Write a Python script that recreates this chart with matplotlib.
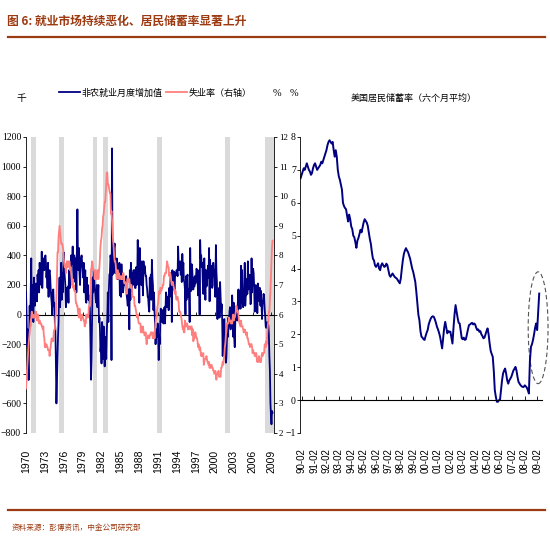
import numpy as np
import matplotlib.pyplot as plt
from matplotlib.lines import Line2D
from matplotlib.patches import Ellipse

plt.rcParams['font.family'] = ['Liberation Serif', 'Noto Sans CJK SC']
CJK = ['Noto Sans CJK SC', 'DejaVu Sans']

# ---- data ----
# US nonfarm payroll change, thousands, monthly from 1970-01
payrolls = [
    [155, 20, -210, -100, -300, -442, -150, 60, -80, 150, 380, 60],
    [0, 200, -50, 250, 150, 60, 100, 210, 180, 90, 270, 200],
    [300, 150, 350, 280, 260, 200, 425, 180, 300, 380, 320, 300],
    [380, 400, 350, 250, 300, 180, 350, 120, 280, 300, 260, 180],
    [120, 80, 0, 150, 170, 60, 80, -50, -100, -320, -600, -450],
    [-300, -150, -50, 150, 250, 50, 200, 350, 100, 280, 150, 300],
    [420, 300, 250, 200, 50, 100, 180, 150, 190, 80, 300, 200],
    [180, 220, 400, 340, 360, 460, 300, 220, 400, 280, 350, 380],
    [150, 450, 711, 400, 300, 450, 280, 200, 320, 380, 400, 350],
    [300, 250, 350, 150, 230, 300, 100, 80, 250, 150, 200, 100],
    [130, 100, 20, -200, -440, -300, -50, 250, 150, 300, 250, 180],
    [150, 100, 80, 200, 50, 120, 200, -50, -20, -100, -250, -200],
    [-330, -50, -150, -300, -80, -250, -350, -150, -200, -300, -120, -20],
    [150, -50, 170, 270, 280, 400, 380, -307, 1123, 270, 350, 350],
    [450, 480, 280, 360, 350, 380, 320, 240, 310, 280, 350, 130],
    [270, 120, 340, 200, 270, 150, 190, 200, 200, 200, 210, 260],
    [130, 100, 60, 170, 120, -100, 300, 100, 350, 160, 200, 280],
    [200, 300, 240, 300, 180, 180, 320, 200, 230, 504, 280, 300],
    [80, 450, 280, 230, 200, 360, 240, 130, 360, 280, 330, 300],
    [260, 260, 200, 170, 120, 110, 50, 20, 250, 120, 270, 100],
    [370, 250, 200, 30, 150, 20, -50, -200, -100, -150, -150, -60],
    [-140, -307, -150, -200, -50, 40, -20, -50, 30, 30, -60, 10],
    [50, -60, 40, 150, 120, 50, 80, 120, 30, 180, 120, 200],
    [280, 260, -50, 300, 270, 170, 290, 170, 250, 280, 270, 300],
    [290, 260, 460, 340, 300, 310, 360, 270, 350, 220, 410, 300],
    [350, 230, 220, 170, 0, 260, 100, 250, 270, 120, 170, 130],
    [-50, 450, 230, 160, 340, 300, 210, 170, 250, 190, 260, 210],
    [240, 310, 300, 270, 130, 250, 300, 0, 504, 380, 400, 320],
    [350, 220, 140, 350, 380, 230, 100, 300, 190, 200, 290, 330],
    [250, 450, 90, 370, 220, 270, 330, 180, 200, 350, 300, 300],
    [250, 120, 470, 290, 220, -30, 160, 0, 180, -20, 220, 120],
    [20, 70, -30, -280, -40, -120, -30, -160, -240, -325, -290, -170],
    [-130, -150, -20, -80, 20, 50, -100, 0, -50, 130, 20, -150],
    [80, -160, -220, -50, -20, 0, 20, -40, 100, 170, 40, 100],
    [160, 40, 330, 250, 300, 80, 50, 120, 160, 350, 60, 140],
    [130, 240, 140, 360, 170, 250, 270, 200, 70, 80, 380, 150],
    [280, 310, 280, 180, 20, 80, 200, 180, 160, 10, 210, 180],
    [160, 90, 180, 60, 160, 70, -30, 90, 80, 140, 110, 40],
    [-10, -80, -90, -70, -50, -60, -70, -130, -280, -380, -597, -681],
    [-741, -651, -663],
]

# unemployment rate, %, monthly from 1970-01
unemployment = [
    [3.5, 3.8, 4.1, 4.4, 4.7, 5.0, 5.2, 5.4, 5.6, 5.8, 5.9, 6.1],
    [5.9, 5.9, 6.0, 5.9, 5.9, 5.9, 6.0, 6.1, 6.0, 5.8, 6.0, 6.0],
    [5.8, 5.7, 5.8, 5.7, 5.7, 5.7, 5.6, 5.6, 5.5, 5.6, 5.3, 5.2],
    [4.9, 5.0, 4.9, 5.0, 4.9, 4.9, 4.8, 4.8, 4.8, 4.6, 4.8, 4.9],
    [5.1, 5.2, 5.1, 5.1, 5.1, 5.4, 5.5, 5.5, 5.9, 6.0, 6.6, 7.2],
    [8.1, 8.1, 8.6, 8.8, 9.0, 8.8, 8.6, 8.4, 8.4, 8.4, 8.3, 8.2],
    [7.9, 7.7, 7.6, 7.7, 7.4, 7.6, 7.8, 7.8, 7.6, 7.7, 7.8, 7.8],
    [7.5, 7.6, 7.4, 7.2, 7.0, 7.2, 6.9, 7.0, 6.8, 6.8, 6.8, 6.4],
    [6.4, 6.3, 6.3, 6.1, 6.0, 5.9, 6.2, 5.9, 6.0, 5.8, 5.9, 6.0],
    [5.9, 5.9, 5.8, 5.8, 5.6, 5.7, 5.7, 6.0, 5.9, 6.0, 5.9, 6.0],
    [6.3, 6.3, 6.3, 6.9, 7.5, 7.6, 7.8, 7.7, 7.5, 7.5, 7.5, 7.2],
    [7.5, 7.4, 7.4, 7.2, 7.5, 7.5, 7.2, 7.4, 7.6, 7.9, 8.3, 8.5],
    [8.6, 8.9, 9.0, 9.3, 9.4, 9.6, 9.8, 9.8, 10.1, 10.4, 10.8, 10.8],
    [10.4, 10.4, 10.3, 10.2, 10.1, 10.1, 9.4, 9.5, 9.2, 8.8, 8.5, 8.3],
    [8.0, 7.8, 7.8, 7.7, 7.4, 7.2, 7.5, 7.5, 7.3, 7.4, 7.2, 7.3],
    [7.3, 7.2, 7.2, 7.3, 7.2, 7.4, 7.4, 7.1, 7.1, 7.1, 7.0, 7.0],
    [6.7, 7.2, 7.2, 7.1, 7.2, 7.2, 7.0, 6.9, 7.0, 7.0, 6.9, 6.6],
    [6.6, 6.6, 6.6, 6.3, 6.3, 6.2, 6.1, 6.0, 5.9, 6.0, 5.8, 5.7],
    [5.7, 5.7, 5.7, 5.4, 5.6, 5.4, 5.4, 5.6, 5.4, 5.4, 5.3, 5.3],
    [5.4, 5.2, 5.0, 5.2, 5.2, 5.3, 5.2, 5.2, 5.3, 5.3, 5.4, 5.4],
    [5.4, 5.3, 5.2, 5.4, 5.4, 5.2, 5.5, 5.7, 5.9, 5.9, 6.2, 6.3],
    [6.4, 6.6, 6.8, 6.7, 6.9, 6.9, 6.8, 6.9, 6.9, 7.0, 7.0, 7.3],
    [7.3, 7.4, 7.4, 7.4, 7.6, 7.8, 7.7, 7.6, 7.6, 7.3, 7.4, 7.4],
    [7.3, 7.1, 7.0, 7.1, 7.1, 7.0, 6.9, 6.8, 6.7, 6.8, 6.6, 6.5],
    [6.6, 6.6, 6.5, 6.4, 6.1, 6.1, 6.1, 6.0, 5.9, 5.8, 5.6, 5.5],
    [5.6, 5.4, 5.4, 5.8, 5.6, 5.6, 5.7, 5.7, 5.6, 5.5, 5.6, 5.6],
    [5.6, 5.5, 5.5, 5.6, 5.6, 5.3, 5.5, 5.1, 5.2, 5.2, 5.4, 5.4],
    [5.3, 5.2, 5.2, 5.1, 4.9, 5.0, 4.9, 4.8, 4.9, 4.7, 4.6, 4.7],
    [4.6, 4.6, 4.7, 4.3, 4.4, 4.5, 4.5, 4.5, 4.6, 4.5, 4.4, 4.4],
    [4.3, 4.4, 4.2, 4.3, 4.2, 4.3, 4.3, 4.2, 4.2, 4.1, 4.1, 4.0],
    [4.0, 4.1, 4.0, 3.8, 4.0, 4.0, 4.0, 4.1, 3.9, 3.9, 3.9, 3.9],
    [4.2, 4.2, 4.3, 4.4, 4.3, 4.5, 4.6, 4.9, 5.0, 5.3, 5.5, 5.7],
    [5.7, 5.7, 5.7, 5.9, 5.8, 5.8, 5.8, 5.7, 5.7, 5.7, 5.9, 6.0],
    [5.8, 5.9, 5.9, 6.0, 6.1, 6.3, 6.2, 6.1, 6.1, 6.0, 5.8, 5.7],
    [5.7, 5.6, 5.8, 5.6, 5.6, 5.6, 5.5, 5.4, 5.4, 5.5, 5.4, 5.4],
    [5.3, 5.4, 5.2, 5.2, 5.1, 5.0, 5.0, 4.9, 5.0, 5.0, 5.0, 4.9],
    [4.7, 4.8, 4.7, 4.7, 4.6, 4.6, 4.7, 4.7, 4.5, 4.4, 4.5, 4.4],
    [4.6, 4.5, 4.4, 4.5, 4.4, 4.6, 4.7, 4.6, 4.7, 4.7, 4.7, 5.0],
    [5.0, 4.9, 5.1, 5.0, 5.4, 5.6, 5.8, 6.1, 6.1, 6.5, 6.8, 7.3],
    [7.8, 8.3, 8.5],
]

# personal saving rate (6m avg), %, monthly from 1990-01
saving = [
    [6.75, 6.85, 6.95, 7.05, 7.0, 7.1, 7.2, 7.1, 7.0, 6.95, 6.85, 6.9],
    [7.05, 7.15, 7.2, 7.1, 7.0, 7.05, 7.1, 7.15, 7.25, 7.2, 7.3, 7.4],
    [7.5, 7.6, 7.75, 7.85, 7.9, 7.85, 7.8, 7.85, 7.6, 7.4, 7.6, 7.4],
    [7.0, 6.8, 6.7, 6.55, 6.4, 6.0, 5.9, 5.84, 5.8, 5.6, 5.43, 5.64],
    [5.5, 5.28, 5.2, 5.0, 4.95, 4.8, 4.63, 4.85, 4.93, 5.05, 5.18, 5.1],
    [5.25, 5.4, 5.5, 5.45, 5.4, 5.3, 5.1, 4.9, 4.75, 4.5, 4.3, 4.25],
    [4.1, 4.05, 4.1, 4.16, 4.0, 3.95, 4.1, 4.16, 4.1, 4.05, 4.07, 4.15],
    [4.1, 3.95, 3.8, 3.75, 3.8, 3.85, 3.8, 3.75, 3.72, 3.7, 3.65, 3.6],
    [3.55, 3.7, 4.0, 4.26, 4.45, 4.55, 4.62, 4.55, 4.5, 4.4, 4.3, 4.15],
    [4.0, 3.9, 3.75, 3.6, 3.3, 2.94, 2.6, 2.43, 2.1, 1.93, 1.9, 1.85],
    [1.83, 1.95, 2.05, 2.13, 2.3, 2.4, 2.48, 2.53, 2.55, 2.53, 2.45, 2.35],
    [2.23, 2.15, 2.05, 1.93, 1.75, 1.57, 1.9, 2.2, 2.38, 2.2, 2.03, 2.1],
    [2.08, 2.08, 1.9, 1.72, 2.2, 2.6, 2.89, 2.7, 2.5, 2.35, 2.33, 2.1],
    [1.88, 1.85, 1.9, 1.83, 1.85, 2.0, 2.15, 2.28, 2.3, 2.33, 2.35, 2.3],
    [2.33, 2.3, 2.2, 2.13, 2.15, 2.08, 2.1, 2.0, 1.95, 1.88, 1.9, 2.0],
    [2.1, 2.18, 2.0, 1.72, 1.5, 1.4, 1.32, 0.9, 0.3, 0.1, -0.05, -0.05],
    [0.0, 0.0, 0.3, 0.6, 0.81, 0.9, 0.96, 0.8, 0.6, 0.5, 0.6, 0.65],
    [0.71, 0.8, 0.9, 0.95, 1.01, 0.9, 0.7, 0.55, 0.5, 0.45, 0.42, 0.4],
    [0.4, 0.45, 0.42, 0.38, 0.3, 0.2, 1.2, 1.62, 1.7, 1.83, 2.0, 2.2],
    [2.33, 2.13, 2.7, 3.24],
]

# shaded recession bands as drawn in the chart (decimal years)
band_start = [1970.8, 1975.25, 1980.65, 1982.25, 1990.8, 2001.6, 2008.0]
band_end = [1971.6, 1976.05, 1981.3, 1983.05, 1991.6, 2002.4, 2009.4]

year_ticks = list(range(1970, 2010, 3))
year_labels = [str(y) for y in year_ticks]
save_tick_years = list(range(1990, 2010))
save_labels = ['%02d-02' % (y % 100) for y in save_tick_years]

NAVY = '#000080'
PINK = '#FF7F7F'
BROWN = '#9C3A12'

pay = np.concatenate([np.array(r, float) for r in payrolls])
une = np.concatenate([np.array(r, float) for r in unemployment])
sav = np.concatenate([np.array(r, float) for r in saving])
t_pay = 1970 + np.arange(len(pay)) / 12.0
t_une = 1970 + np.arange(len(une)) / 12.0
t_sav = 1990 + np.arange(len(sav)) / 12.0

fig = plt.figure(figsize=(5.5, 5.5), dpi=100)

# header / footer
fig.text(7/550, 1-21/550, '图 6: 就业市场持续恶化、居民储蓄率显著上升', family=CJK,
         fontsize=8.5, fontweight='bold', color=BROWN, va='center', ha='left')
fig.add_artist(Line2D([8/550, 545/550], [1-37/550, 1-37/550], color=BROWN, lw=1.6))
fig.add_artist(Line2D([8/550, 545/550], [1-510/550, 1-510/550], color=BROWN, lw=1.6))
fig.text(12/550, 1-528/550, '资料来源：彭博资讯，中金公司研究部', family=CJK,
         fontsize=5.5, color=BROWN, va='center', ha='left')

# ---- left chart ----
ax1 = fig.add_axes([26/550, 1-433/550, 248/550, 296/550])
ax2 = ax1.twinx()

for s, e in zip(band_start, band_end):
    ax1.axvspan(s, e, color='#DADADA', lw=0, zorder=0)

ln1, = ax1.plot(t_pay, pay, color=NAVY, lw=1.3, zorder=3)
ln2, = ax2.plot(t_une, une, color=PINK, lw=1.3, zorder=3)

ax1.set_xlim(1970, 2009.4)
ax1.set_ylim(-800, 1200)
ax2.set_ylim(2, 12)
ax1.set_yticks(range(-800, 1201, 200))
ax2.set_yticks(range(2, 13))

for sp in ['top', 'right']:
    ax1.spines[sp].set_visible(False)
for sp in ['top', 'bottom', 'left']:
    ax2.spines[sp].set_visible(False)
ax1.spines['bottom'].set_position(('data', 0))
ax1.spines['bottom'].set_linewidth(0.8)
ax1.spines['left'].set_linewidth(0.6)
ax2.spines['right'].set_linewidth(0.6)
ax1.set_xticks(year_ticks)
ax1.tick_params(axis='x', direction='in', length=2, width=0.6, labelbottom=False)
ax1.tick_params(axis='y', direction='out', length=2.5, width=0.6, pad=1, labelsize=7)
ax2.tick_params(axis='y', direction='out', length=2, width=0.6, pad=1.5, labelsize=6.5)

sec1 = ax1.secondary_xaxis(0.0)
sec1.set_xticks(year_ticks, labels=year_labels)
sec1.tick_params(length=0, pad=12, labelsize=7.5, labelrotation=90)
for lab in sec1.get_xticklabels():
    lab.set_family(['Liberation Sans', 'DejaVu Sans'])
sec1.spines['bottom'].set_visible(False)

fig.legend([ln1, ln2], ['非农就业月度增加值', '失业率（右轴）'], prop={'family': CJK, 'size': 6.5},
           loc='center left', bbox_to_anchor=(59/550, 1-93/550), ncol=2, frameon=False,
           handlelength=2.3, handletextpad=0.2, columnspacing=0.4, borderpad=0, borderaxespad=0)
fig.text(21/550, 1-98/550, '千', family=CJK, fontsize=7, ha='center', va='center')
fig.text(277/550, 1-93/550, '%', fontsize=7.5, ha='center', va='center')
fig.text(294/550, 1-93/550, '%', fontsize=7.5, ha='center', va='center')

# ---- right chart ----
ax3 = fig.add_axes([300/550, 1-433/550, 241.7/550, 296/550])
ax3.plot(t_sav, sav, color=NAVY, lw=1.4)
ax3.set_xlim(1989.95, 2009.45)
ax3.set_ylim(-1, 8)
ax3.set_yticks(range(-1, 9))
for sp in ['top', 'right']:
    ax3.spines[sp].set_visible(False)
ax3.spines['bottom'].set_position(('data', 0))
ax3.spines['bottom'].set_linewidth(0.8)
ax3.spines['left'].set_linewidth(0.6)
tick_pos = [y + 1/12 for y in save_tick_years]
ax3.set_xticks(tick_pos)
ax3.tick_params(axis='x', direction='in', length=3, width=0.6, labelbottom=False)
ax3.tick_params(axis='y', direction='out', length=2, width=0.6, pad=1, labelsize=7)

sec3 = ax3.secondary_xaxis(0.0)
sec3.set_xticks(tick_pos, labels=save_labels)
sec3.tick_params(length=0, pad=11, labelsize=7, labelrotation=90)
for lab in sec3.get_xticklabels():
    lab.set_family(['Liberation Sans', 'DejaVu Sans'])
sec3.spines['bottom'].set_visible(False)

ax3.add_patch(Ellipse((2009.16, 2.2), 1.6, 3.4, fill=False, ls=(0, (4, 2.5)),
                      ec='#555555', lw=0.8, clip_on=False))
fig.text(414/550, 1-98/550, '美国居民储蓄率（六个月平均）', family=CJK, fontsize=6.5,
         ha='center', va='center')

fig.savefig('out.png', dpi=100)
